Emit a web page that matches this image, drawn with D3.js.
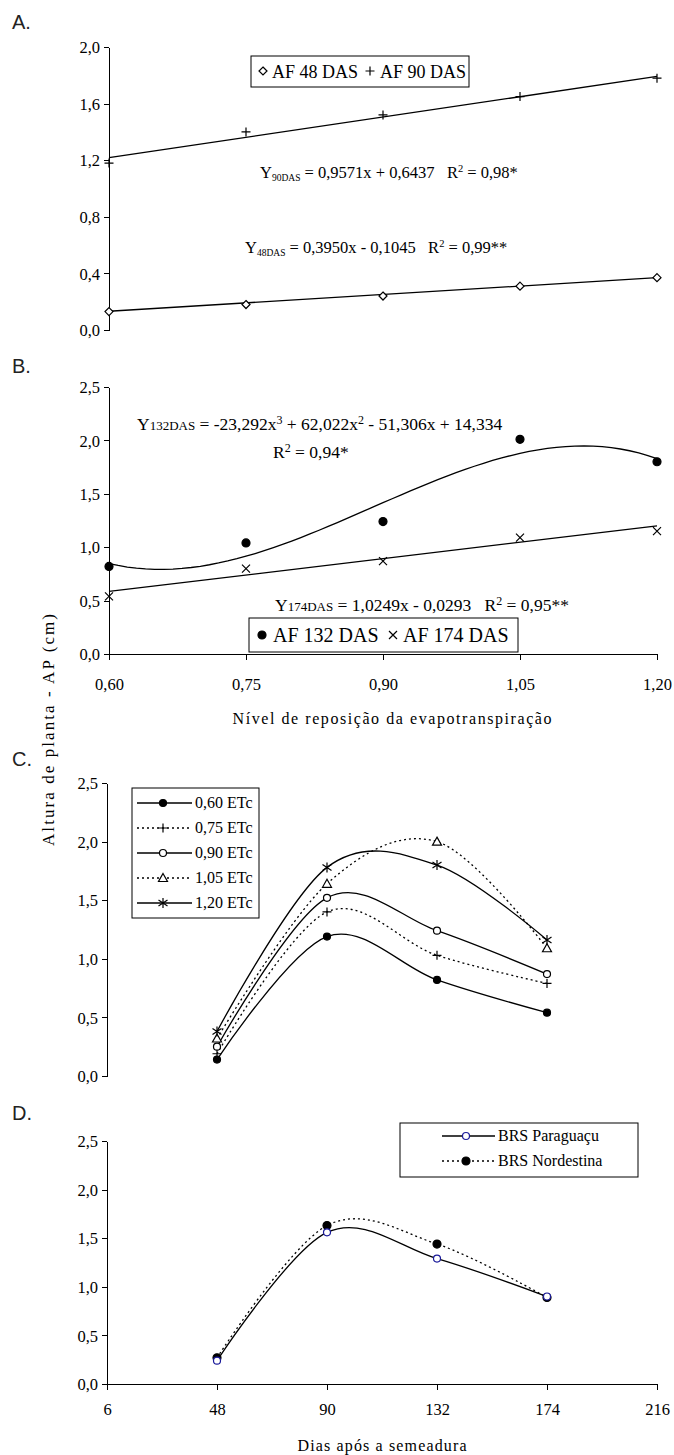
<!DOCTYPE html>
<html>
<head>
<meta charset="utf-8">
<title>Altura de planta</title>
<style>
    body { margin: 0; background: #fff; }
    .axis path, .axis line { stroke: #000; stroke-width: 1; shape-rendering: crispEdges; }
    .fit, .curve { fill: none; stroke: #000; stroke-width: 1.3; }
    .dotted { stroke-dasharray: 2,3; }
    .legend-box { fill: #fff; stroke: #000; stroke-width: 1; }
</style>
</head>
<body>
<script src="https://cdnjs.cloudflare.com/ajax/libs/d3/7.8.5/d3.min.js"></script>
<script>
    // Panels A and B: irrigation levels (x) and plant height values
    const levels = [0.60, 0.75, 0.90, 1.05, 1.20];
    const af48 = [0.13, 0.18, 0.24, 0.31, 0.37];
    const af90 = [1.18, 1.40, 1.52, 1.65, 1.78];
    const fit48 = [0.3950, -0.1045];
    const fit90 = [0.9571, 0.6437];

    const af132 = [0.82, 1.04, 1.24, 2.01, 1.80];
    const af174 = [0.54, 0.80, 0.87, 1.09, 1.15];
    const fit132 = [-23.292, 62.022, -51.306, 14.334];
    const fit174 = [1.0249, -0.0293];

    // Panel C: days after sowing, one series per ETc level
    const days = [48, 90, 132, 174];
    const dayTicks = [6, 48, 90, 132, 174, 216];
    const etcNames = ["0,60 ETc", "0,75 ETc", "0,90 ETc", "1,05 ETc", "1,20 ETc"];
    const etc060 = [0.14, 1.19, 0.82, 0.54];
    const etc075 = [0.19, 1.40, 1.03, 0.79];
    const etc090 = [0.25, 1.52, 1.24, 0.87];
    const etc105 = [0.32, 1.64, 2.00, 1.09];
    const etc120 = [0.38, 1.78, 1.80, 1.16];

    // Panel D: cultivars
    const cultivars = ["BRS Paraguaçu", "BRS Nordestina"];
    const paraguacu = [0.24, 1.56, 1.29, 0.90];
    const nordestina = [0.27, 1.63, 1.44, 0.89];

    const SERIF = '"Liberation Serif", "Times New Roman", Times, serif';
    const SANS = '"Liberation Sans", Arial, sans-serif';

    const svg = d3.select("body").append("svg")
        .attr("width", 674)
        .attr("height", 1455)
        .style("font-family", SERIF);

    const comma = f => v => d3.format(f)(v).replace(".", ",");

    // plain text helper, always serif unless told otherwise
    function txt(x, y, s, size, anchor) {
        return svg.append("text").attr("x", x).attr("y", y)
            .attr("text-anchor", anchor || "start")
            .style("font-family", SERIF).style("font-size", size + "px")
            .style("white-space", "pre").attr("fill", "#000")
            .text(s);
    }

    // marker shapes (Excel style)
    const markers = {
        diamond: {d: "M0,-4L4,0L0,4L-4,0Z", fill: "#fff"},
        plus: {d: "M-4.5,0H4.5M0,-4.5V4.5", fill: "none"},
        cross: {d: "M-4,-4L4,4M-4,4L4,-4", fill: "none"},
        dot: {r: 4, fill: "#000"},
        smalldot: {r: 3.5, fill: "#000"},
        ring: {r: 3.5, fill: "#fff"},
        navyring: {r: 3.5, fill: "#fff", stroke: "#1a1a9a"},
        triangle: {d: "M0,-4.5L4.5,3.5H-4.5Z", fill: "#fff"},
        star: {d: "M0,-5V5M-4.5,-3L4.5,3M-4.5,3L4.5,-3", fill: "none"}
    };

    function marker(g, type, x, y) {
        const m = markers[type];
        if (m.r) {
            g.append("circle").attr("cx", x).attr("cy", y).attr("r", m.r)
                .attr("fill", m.fill).attr("stroke", m.stroke || "#000").attr("stroke-width", 1.2);
        } else {
            g.append("path").attr("d", m.d).attr("transform", `translate(${x},${y})`)
                .attr("fill", m.fill).attr("stroke", "#000").attr("stroke-width", 1.2);
        }
    }

    function styleAxis(g) {
        g.attr("font-family", null).attr("font-size", null);
        g.selectAll("text").style("font-family", SERIF).style("font-size", "16.5px").attr("fill", "#000");
    }

    function yAxis(scale, ticks, fmt, x) {
        const g = svg.append("g").attr("class", "axis")
            .attr("transform", `translate(${x},0)`)
            .call(d3.axisLeft(scale).tickValues(ticks).tickFormat(fmt).tickSize(5).tickSizeOuter(0).tickPadding(4));
        styleAxis(g);
        g.selectAll("text").attr("dy", "0.35em");
        return g;
    }

    function xAxis(scale, ticks, fmt, y, labelOffset) {
        const g = svg.append("g").attr("class", "axis")
            .attr("transform", `translate(0,${y})`)
            .call(d3.axisBottom(scale).tickValues(ticks).tickFormat(fmt).tickSize(6).tickSizeOuter(0));
        styleAxis(g);
        g.selectAll("text").attr("y", labelOffset).attr("dy", 0);
        return g;
    }

    const poly = c => x => c.reduce((acc, k) => acc * x + k, 0);

    function label(s, x, y) {
        svg.append("text").attr("x", x).attr("y", y)
            .style("font-family", SANS).style("font-size", "20px").attr("fill", "#222").text(s);
    }

    // equation with sub/superscripts
    function eqText(x, y, parts, size) {
        const t = txt(x, y, null, size);
        let shift = 0;
        parts.forEach(p => {
            const s = p.sub ? 3 : p.sup ? -6 : 0;
            t.append("tspan").attr("dy", s - shift)
                .style("font-size", (p.size || size) + "px")
                .text(p.t);
            shift = s;
        });
        return t;
    }

    // ---------------- Panel A ----------------
    const xA = d3.scaleLinear().domain([0.6, 1.2]).range([109, 657]);
    const yA = d3.scaleLinear().domain([0, 2]).range([330, 47]);
    label("A.", 12, 29);
    yAxis(yA, [0, 0.4, 0.8, 1.2, 1.6, 2.0], comma(".1f"), 109);

    const fitLine = d3.line().x(d => xA(d[0])).y(d => yA(d[1]));
    [fit48, fit90].forEach(c => {
        svg.append("path").attr("class", "fit")
            .attr("d", fitLine([0.6, 1.2].map(x => [x, poly(c)(x)])));
    });
    const gA = svg.append("g");
    levels.forEach((l, i) => {
        marker(gA, "diamond", xA(l), yA(af48[i]));
        marker(gA, "plus", xA(l), yA(af90[i]));
    });

    eqText(260, 178, [
        {t: "Y"}, {t: "90DAS", sub: true, size: 9.5}, {t: " = 0,9571x + 0,6437   R"},
        {t: "2", sup: true, size: 10.5}, {t: " = 0,98*"}
    ], 16.5);
    eqText(245, 253, [
        {t: "Y"}, {t: "48DAS", sub: true, size: 9.5}, {t: " = 0,3950x - 0,1045   R"},
        {t: "2", sup: true, size: 10.5}, {t: " = 0,99**"}
    ], 16.5);

    svg.append("rect").attr("class", "legend-box").attr("x", 251).attr("y", 56).attr("width", 218).attr("height", 31);
    marker(svg, "diamond", 263, 71);
    txt(272, 78, "AF 48 DAS", 18);
    marker(svg, "plus", 370, 71);
    txt(380, 78, "AF 90 DAS", 18);

    // ---------------- Panel B ----------------
    const xB = d3.scaleLinear().domain([0.6, 1.2]).range([109, 657]);
    const yB = d3.scaleLinear().domain([0, 2.5]).range([654, 387]);
    label("B.", 12, 373);
    yAxis(yB, [0, 0.5, 1.0, 1.5, 2.0, 2.5], comma(".1f"), 109);
    xAxis(xB, levels, comma(".2f"), 654, 36);

    const lineB = d3.line().x(d => xB(d[0])).y(d => yB(d[1]));
    svg.append("path").attr("class", "fit")
        .attr("d", lineB(d3.range(0.6, 1.2001, 0.01).map(x => [x, poly(fit132)(x)])));
    svg.append("path").attr("class", "fit")
        .attr("d", lineB([0.6, 1.2].map(x => [x, poly(fit174)(x)])));
    const gB = svg.append("g");
    levels.forEach((l, i) => {
        marker(gB, "dot", xB(l), yB(af132[i]));
        marker(gB, "cross", xB(l), yB(af174[i]));
    });

    eqText(137, 430, [
        {t: "Y"}, {t: "132DAS", size: 13}, {t: " = -23,292x"}, {t: "3", sup: true, size: 12},
        {t: " + 62,022x"}, {t: "2", sup: true, size: 12}, {t: " - 51,306x + 14,334"}
    ], 17.5);
    eqText(273, 458, [{t: "R"}, {t: "2", sup: true, size: 12}, {t: " = 0,94*"}], 17.5);
    eqText(275, 611, [
        {t: "Y"}, {t: "174DAS", size: 13}, {t: " = 1,0249x - 0,0293   R"}, {t: "2", sup: true, size: 12},
        {t: " = 0,95**"}
    ], 17.5);

    svg.append("rect").attr("class", "legend-box").attr("x", 249).attr("y", 618).attr("width", 269).attr("height", 34);
    marker(svg, "dot", 262, 635);
    txt(273, 642, "AF 132 DAS", 20);
    marker(svg, "cross", 393, 635);
    txt(403, 642, "AF 174 DAS", 20);

    txt(392, 724, "Nível de reposição da evapotranspiração", 16, "middle")
        .attr("textLength", 319).attr("lengthAdjust", "spacing");

    // shared y title
    txt(0, 0, "Altura de planta - AP (cm)", 17, "middle")
        .attr("transform", "translate(54,730) rotate(-90)")
        .attr("textLength", 232).attr("lengthAdjust", "spacing");

    // ---------------- Panel C ----------------
    const xC = d3.scaleLinear().domain([6, 216]).range([107, 657]);
    const yC = d3.scaleLinear().domain([0, 2.5]).range([1076, 783]);
    label("C.", 12, 766);
    yAxis(yC, [0, 0.5, 1.0, 1.5, 2.0, 2.5], comma(".1f"), 107);

    const smooth = d3.line().curve(d3.curveCatmullRom.alpha(0));
    const seriesC = [etc060, etc075, etc090, etc105, etc120];
    const markC = ["smalldot", "plus", "ring", "triangle", "star"];
    const dashC = [false, true, false, true, false];
    seriesC.forEach((s, k) => {
        svg.append("path").attr("class", "curve" + (dashC[k] ? " dotted" : ""))
            .attr("d", smooth(days.map((d, i) => [xC(d), yC(s[i])])));
    });
    const gC = svg.append("g");
    seriesC.forEach((s, k) => {
        days.forEach((d, i) => marker(gC, markC[k], xC(d), yC(s[i])));
    });

    svg.append("rect").attr("class", "legend-box").attr("x", 132).attr("y", 788).attr("width", 127).attr("height", 130);
    etcNames.forEach((n, k) => {
        const y = 803 + k * 25;
        svg.append("line").attr("x1", 137).attr("x2", 192).attr("y1", y).attr("y2", y)
            .attr("class", "curve" + (dashC[k] ? " dotted" : ""));
        marker(svg, markC[k], 163, y);
        txt(195, y + 5, n, 16);
    });

    // ---------------- Panel D ----------------
    const xD = d3.scaleLinear().domain([6, 216]).range([107, 657]);
    const yD = d3.scaleLinear().domain([0, 2.5]).range([1384, 1141]);
    label("D.", 12, 1120);
    yAxis(yD, [0, 0.5, 1.0, 1.5, 2.0, 2.5], comma(".1f"), 107);
    xAxis(xD, dayTicks, d3.format("d"), 1384, 31);

    const seriesD = [paraguacu, nordestina];
    const markD = ["navyring", "dot"];
    const dashD = [false, true];
    seriesD.forEach((s, k) => {
        svg.append("path").attr("class", "curve" + (dashD[k] ? " dotted" : ""))
            .attr("d", smooth(days.map((d, i) => [xD(d), yD(s[i])])));
    });
    const gD = svg.append("g");
    [1, 0].forEach(k => {
        days.forEach((d, i) => marker(gD, markD[k], xD(d), yD(seriesD[k][i])));
    });

    svg.append("rect").attr("class", "legend-box").attr("x", 400).attr("y", 1123).attr("width", 238).attr("height", 54);
    cultivars.forEach((n, k) => {
        const y = 1136 + k * 25;
        svg.append("line").attr("x1", 442).attr("x2", 495).attr("y1", y).attr("y2", y)
            .attr("class", "curve" + (dashD[k] ? " dotted" : ""));
        marker(svg, markD[k], 466, y);
        txt(498, y + 5, n, 16);
    });

    txt(382, 1451, "Dias após a semeadura", 16, "middle")
        .attr("textLength", 169).attr("lengthAdjust", "spacing");
</script>
</body>
</html>
